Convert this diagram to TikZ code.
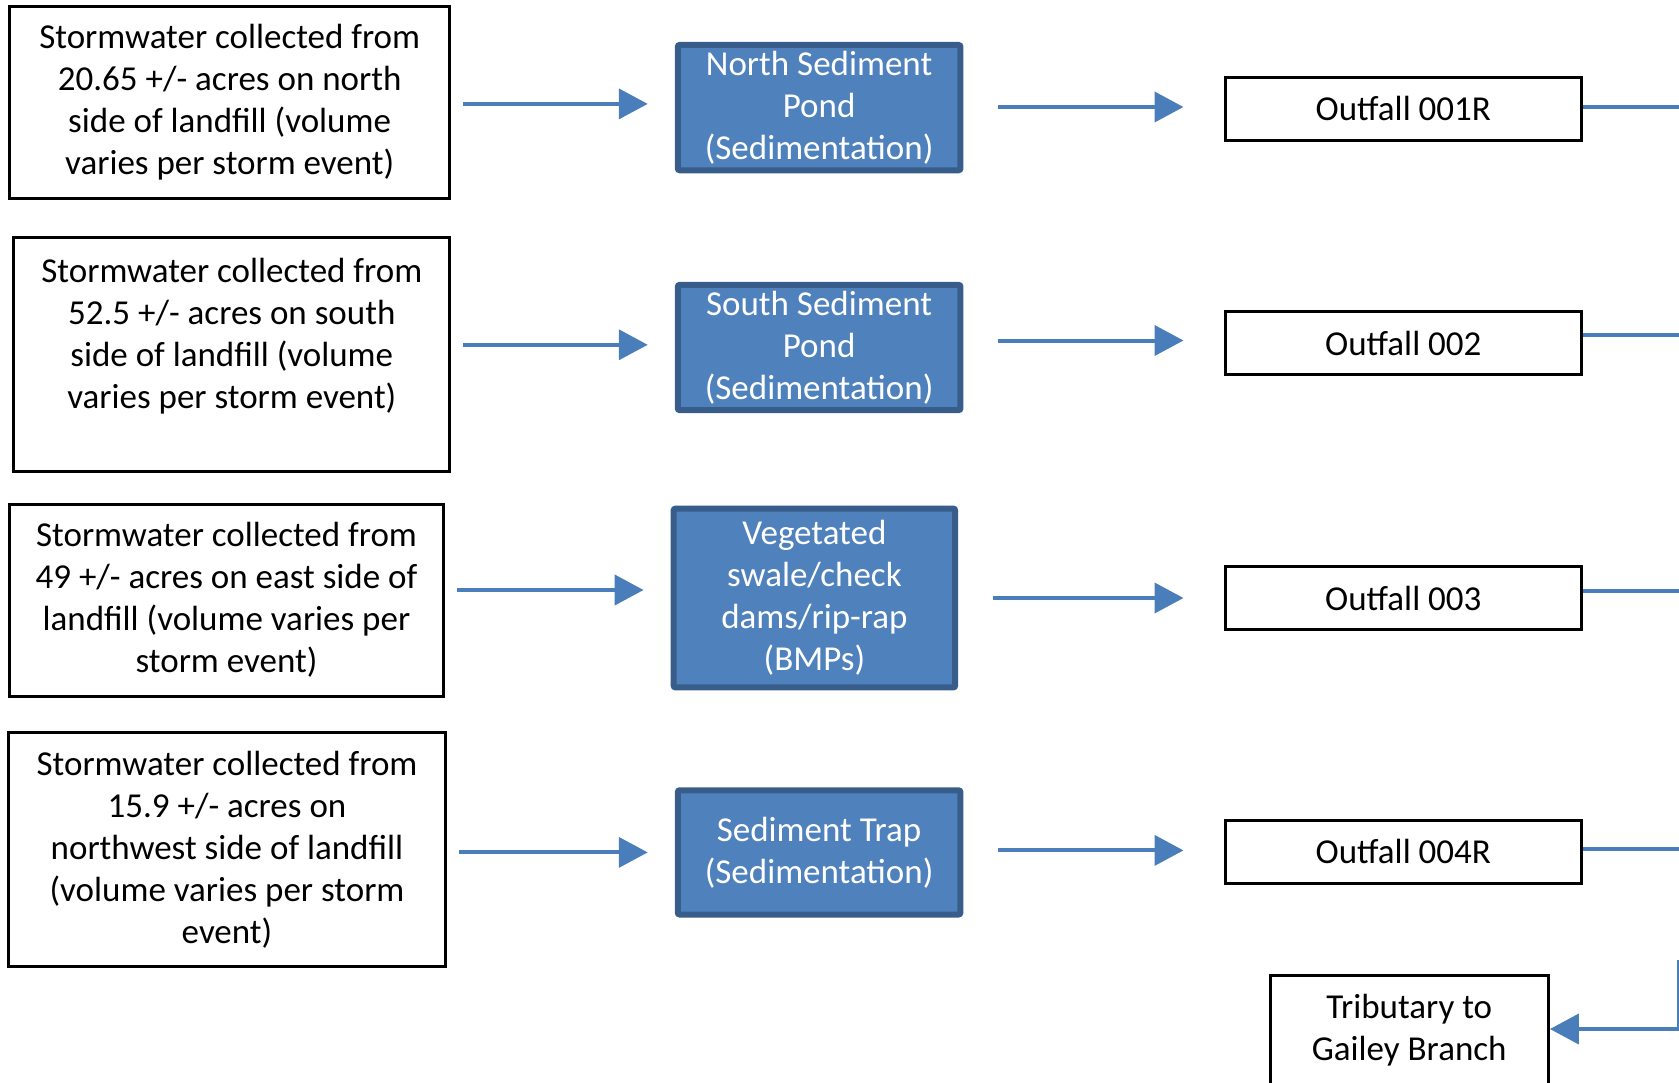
\documentclass[tikz,border=0pt]{standalone}
\usepackage{fontspec}
\setmainfont{Carlito}
\usetikzlibrary{arrows.meta}
\definecolor{boxfill}{HTML}{4F81BD}
\definecolor{boxline}{HTML}{385D8A}
\definecolor{arrowblue}{HTML}{4A7EBB}
\begin{document}
\begin{tikzpicture}[x=1pt,y=-1pt,
 every node/.style={font=\fontsize{35}{42}\selectfont, align=center, inner sep=0pt},
 srcbox/.style={draw=black, line width=3pt, fill=white},
 treatbox/.style={draw=boxline, fill=boxfill, line width=6pt, text=white, rounded corners=2pt},
 outbox/.style={draw=black, line width=3pt, fill=white, minimum width=356.6pt, minimum height=63.2pt},
 flow/.style={draw=arrowblue, line width=4pt, -{Triangle[length=29pt,width=30pt]}},
 link/.style={draw=arrowblue, line width=4pt}]
\useasboundingbox (0,0) rectangle (1679,1082);
\clip (0,0) rectangle (1679,1082);

% source boxes
\node[srcbox, minimum width=440pt, minimum height=191.7pt] (L1) at (229.7,102.3)
  {Stormwater collected from\\20.65 +/- acres on north\\side of landfill (volume\\varies per storm event)};
\node[srcbox, minimum width=435.8pt, minimum height=233.5pt] (L2) at (231.8,354.4)
  {Stormwater collected from\\52.5 +/- acres on south\\side of landfill (volume\\varies per storm event)\\~};
\node[srcbox, minimum width=433.7pt, minimum height=191.7pt] (L3) at (226.5,600.2)
  {Stormwater collected from\\49 +/- acres on east side of\\landfill (volume varies per\\storm event)};
\node[srcbox, minimum width=436.9pt, minimum height=234.5pt] (L4) at (227,849.7)
  {Stormwater collected from\\15.9 +/- acres on\\northwest side of landfill\\(volume varies per storm\\event)};

% treatment boxes
\node[treatbox, minimum width=282.7pt, minimum height=125.3pt] (B1) at (819.1,107.6)
  {North Sediment\\Pond\\(Sedimentation)};
\node[treatbox, minimum width=282.7pt, minimum height=125.3pt] (B2) at (819.1,347.5)
  {South Sediment\\Pond\\(Sedimentation)};
\node[treatbox, minimum width=281.6pt, minimum height=178.8pt] (B3) at (814.4,598)
  {Vegetated\\swale/check\\dams/rip-rap\\(BMPs)};
\node[treatbox, minimum width=282.7pt, minimum height=124.2pt] (B4) at (819.1,852.4)
  {Sediment Trap\\(Sedimentation)};

% outfalls
\node[outbox] (O1) at (1403.3,108.7) {Outfall 001R};
\node[outbox] (O2) at (1403.3,343.2) {Outfall 002};
\node[outbox] (O3) at (1403.3,598) {Outfall 003};
\node[outbox] (O4) at (1403.3,851.8) {Outfall 004R};

\node[srcbox, minimum width=278.4pt, minimum height=109.5pt] (T) at (1409.2,1030)
  {Tributary to\\Gailey Branch};

\coordinate (edge) at (1680,0);
\coordinate (vtop) at (1679,960);
\coordinate (vbot) at (1679,1029);

% arrows source -> treatment
\foreach \s/\t/\d in {L1/B1/3.7,L2/B2/2.7,L3/B3/8,L4/B4/0}{
  \draw[flow, shorten <=12pt, shorten >=27pt] ([yshift=\d pt]\t.west -| \s.east) -- ([yshift=\d pt]\t.west);
}
% arrows treatment -> outfall
\foreach \s/\t/\d in {B1/O1/0.6,B2/O2/7,B3/O3/0,B4/O4/2}{
  \draw[flow, shorten <=34.5pt, shorten >=40pt] ([yshift=\d pt]\s.east) -- ([yshift=\d pt]\s.east -| \t.west);
}
% outfall lines to the right edge
\foreach \o/\d in {O1/2,O2/8,O3/7,O4/3}{
  \draw[link] ([yshift=\d pt]\o.east) -- ([yshift=\d pt]\o.east -| edge);
}
\draw[link] (vtop) -- (vbot);
\draw[flow] (vbot) -- (vbot -| T.east);
\end{tikzpicture}
\end{document}
